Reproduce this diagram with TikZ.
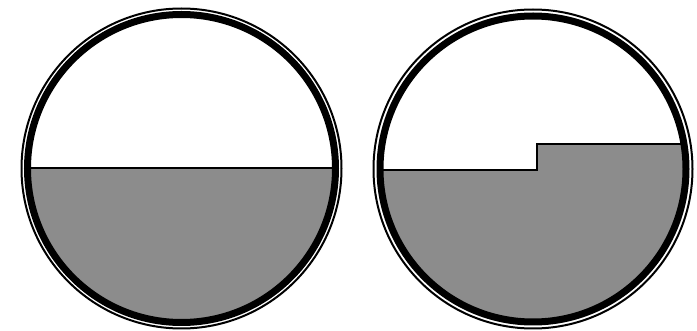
\documentclass[tikz,border=0pt]{standalone}
\usetikzlibrary{calc}
\begin{document}
\begin{tikzpicture}[x=1pt,y=-1pt,
    fluid/.style={fill=black!45},
    level/.style={line width=1.3pt},
    rim/.style={line width=7pt},
    lip/.style={line width=2pt}]
    \useasboundingbox (0,0) rectangle (697,331);
    \coordinate (L) at (181.5,168.5);
    \coordinate (R) at (533,169);
    % left vessel, one flat level
    \begin{scope}
	\clip (L) circle (151pt);
	\fill[fluid] (0,168) rectangle (350,331);
	\draw[level] (0,168) -- (350,168);
    \end{scope}
    \draw[rim] (L) circle (154pt);
    \draw[lip] (L) circle (160pt);
    % right vessel, level with a step
    \begin{scope}
	\clip (R) circle (150pt);
	\fill[fluid] (355,170) -- (537,170) -- (537,144) -- (697,144)
	    -- (697,331) -- (355,331) -- cycle;
	\draw[level] (355,170) -- (537,170) -- (537,144) -- (697,144);
    \end{scope}
    \draw[rim] (R) circle (153pt);
    \draw[lip] (R) circle (159.5pt);
\end{tikzpicture}
\end{document}
